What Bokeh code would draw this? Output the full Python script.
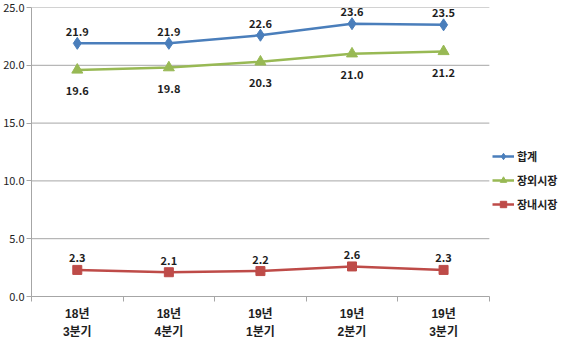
from bokeh.plotting import figure
from bokeh.models import Range1d, FixedTicker, Legend, LegendItem, PrintfTickFormatter, LinearAxis
from bokeh.embed import file_html
from bokeh.resources import INLINE
from bokeh.core.properties import value

years = ["18년", "18년", "19년", "19년", "19년"]
quarters = ["3분기", "4분기", "1분기", "2분기", "3분기"]
total = [21.9, 21.9, 22.6, 23.6, 23.5]
otc = [19.6, 19.8, 20.3, 21.0, 21.2]
exchange = [2.3, 2.1, 2.2, 2.6, 2.3]
series_names = ["합계", "장외시장", "장내시장"]
y_ticks = [0, 5, 10, 15, 20, 25]

xs = list(range(1, len(years) + 1))
FONT = "Noto Sans CJK KR"
XFONT = "'Liberation Sans', 'Noto Sans CJK KR'"
BLUE, GREEN, RED = "#4A7EBB", "#98B954", "#BE4B48"
GRID = "#A6A6A6"
TXT = "#1E1E1E"

W, H = 564, 344
LEFT, TOP, BOTTOM = 24, 7, 48
AREA_W = 457   # pixel width occupied by the categories
FRAME_W = 532  # measured frame width
x_lo = 0.5
x_hi_cat = len(xs) + 0.5
x_hi = x_lo + len(xs) * FRAME_W / AREA_W

p = figure(width=W, height=H, output_backend="svg", toolbar_location=None,
           x_range=Range1d(x_lo, x_hi), y_range=Range1d(y_ticks[0], y_ticks[-1]),
           min_border_left=LEFT, min_border_right=0, min_border_top=TOP, min_border_bottom=BOTTOM)
p.outline_line_color = None
p.background_fill_color = "white"

# y axis
yax = p.yaxis[0]
yax.ticker = FixedTicker(ticks=y_ticks)
yax.formatter = PrintfTickFormatter(format="%.1f")
yax.axis_line_color = GRID
yax.major_tick_line_color = GRID
yax.major_tick_out = 5
yax.major_tick_in = 0
yax.minor_tick_line_color = None
yax.major_label_standoff = 2
yax.major_label_text_font = FONT
yax.major_label_text_font_size = "11px"
yax.major_label_text_color = TXT
p.ygrid.grid_line_color = None
p.xgrid.grid_line_color = None

# horizontal gridlines limited to the category area
p.segment(x0=[x_lo] * len(y_ticks), x1=[x_hi_cat] * len(y_ticks), y0=y_ticks, y1=y_ticks,
          line_color=GRID, line_width=1)

# x axis: year labels at centres, tick marks at boundaries (minor ticks)
xax = p.xaxis[0]
xax.ticker = FixedTicker(ticks=xs, minor_ticks=[x - 0.5 for x in xs] + [xs[-1] + 0.5])
xax.bounds = (x_lo, x_hi_cat)
xax.major_label_overrides = {x: y for x, y in zip(xs, years)}
xax.major_tick_out = 0
xax.major_tick_in = 0
xax.minor_tick_out = 5
xax.minor_tick_in = 0
xax.minor_tick_line_color = GRID
xax.axis_line_color = GRID
xax.axis_label_standoff = 0
xax.major_label_standoff = 5
xax.major_label_text_font = XFONT
xax.major_label_text_font_size = "12px"
xax.major_label_text_font_style = "bold"
xax.major_label_text_color = TXT

# second line of category labels (quarters)
qax = LinearAxis(ticker=FixedTicker(ticks=xs, minor_ticks=[]),
                 major_label_overrides={x: q for x, q in zip(xs, quarters)},
                 axis_line_color=None, major_tick_line_color=None, minor_tick_line_color=None,
                 major_tick_out=0, major_tick_in=0, minor_tick_out=0, minor_tick_in=0,
                 axis_label_standoff=0,
                 major_label_standoff=1, major_label_text_font=XFONT,
                 major_label_text_font_size="12px", major_label_text_font_style="bold",
                 major_label_text_color=TXT)
p.add_layout(qax, "below")

items = []
for name, vals, col, mk, sz, off in [
    (series_names[0], total, BLUE, "diamond", 12, -12),
    (series_names[1], otc, GREEN, "triangle", 11, 21),
    (series_names[2], exchange, RED, "square", 9, -12),
]:
    ln = p.line(xs, vals, line_color=col, line_width=2.5)
    sc = p.scatter(xs, vals, marker=mk, size=sz, fill_color=col, line_color=col)
    p.text(xs, vals, text=[f"{v:.1f}" for v in vals], text_align="center",
           text_baseline="middle", y_offset=off, text_font=value(FONT),
           text_font_size="11px", text_font_style="bold", text_color=TXT)
    items.append(LegendItem(label=name, renderers=[ln, sc]))

legend = Legend(items=items, location=(461, 84), padding=0, margin=0,
                glyph_width=22, glyph_height=16, label_height=16, spacing=8,
                label_standoff=3, border_line_color=None, background_fill_alpha=0,
                label_text_font=FONT, label_text_font_size="11px",
                label_text_font_style="bold", label_text_color=TXT)
p.add_layout(legend, "center")

open("out.html", "w").write(file_html(p, INLINE))
